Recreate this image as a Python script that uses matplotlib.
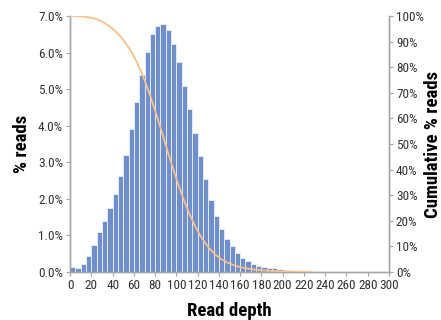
import numpy as np
import matplotlib
matplotlib.use("Agg")
import matplotlib.pyplot as plt
from matplotlib.ticker import FuncFormatter, MultipleLocator

# 直方图：每个 5 的深度区间所占的读数百分比
bin_starts = list(range(0, 205, 5))
pct_reads = [0.14, 0.11, 0.23, 0.45, 0.73, 1.09, 1.40, 1.75, 2.13, 2.62,
             3.19, 3.91, 4.64, 5.38, 6.02, 6.50, 6.74, 6.78, 6.63, 6.24,
             5.74, 5.09, 4.45, 3.79, 3.17, 2.53, 1.98, 1.52, 1.17, 0.90,
             0.70, 0.52, 0.39, 0.29, 0.23, 0.17, 0.14, 0.12, 0.10, 0.08,
             0.06]

# 累计曲线（区间中心）
cum_depth = [2.5 + 5 * i for i in range(46)]
cum_pct = [100.0, 99.9, 99.7, 99.5, 99.1, 98.3, 97.3, 95.8, 94.1, 92.0,
           89.3, 86.1, 82.2, 77.6, 72.2, 66.2, 59.7, 53.0, 46.2, 39.6,
           33.3, 27.6, 22.5, 18.0, 14.2, 11.1, 8.5, 6.5, 5.0, 3.8,
           2.9, 2.2, 1.7, 1.3, 1.0, 0.8, 0.6, 0.5, 0.4, 0.3,
           0.2, 0.2, 0.1, 0.1, 0.1, 0.0]

plt.rcParams['font.family'] = ['Roboto Condensed', 'Archivo Narrow', 'Arial Narrow',
                               'Liberation Sans Narrow', 'Barlow Condensed', 'DejaVu Sans']

fig = plt.figure(figsize=(4.41, 3.2), dpi=100)
ax = fig.add_axes([0.159, 0.15, 0.723, 0.80])
ax2 = ax.twinx()

ax.bar(bin_starts, pct_reads, width=5, align='edge', color='#6e8fcb',
       edgecolor='#e4eaf6', linewidth=0.7, zorder=2)
ax2.plot(cum_depth, cum_pct, color='#f9c08a', linewidth=1.3, zorder=3)

ax.set_xlim(0, 300)
ax.set_ylim(0, 7.0)
ax2.set_ylim(0, 100)
ax.xaxis.set_major_locator(MultipleLocator(20))
ax.yaxis.set_major_locator(MultipleLocator(1.0))
ax2.yaxis.set_major_locator(MultipleLocator(10))
ax.yaxis.set_major_formatter(FuncFormatter(lambda v, p: f"{v:.1f}%"))
ax2.yaxis.set_major_formatter(FuncFormatter(lambda v, p: f"{v:.0f}%"))

grey = '#a6a6a6'
for a in (ax, ax2):
    a.spines['top'].set_visible(False)
    for s in ('left', 'right', 'bottom'):
        a.spines[s].set_color(grey)
        a.spines[s].set_linewidth(1.0)
    a.tick_params(colors=grey, labelcolor='#333333', labelsize=9.5,
                  length=3, width=0.8, pad=2)

ax.set_xlabel('Read depth', fontsize=13.5, fontweight='bold', labelpad=7)
ax.set_ylabel('% reads', fontsize=13.5, fontweight='bold', labelpad=5)
ax2.set_ylabel('Cumulative % reads', fontsize=13.5, fontweight='bold', labelpad=0)

fig.savefig('out.png', dpi=100)
